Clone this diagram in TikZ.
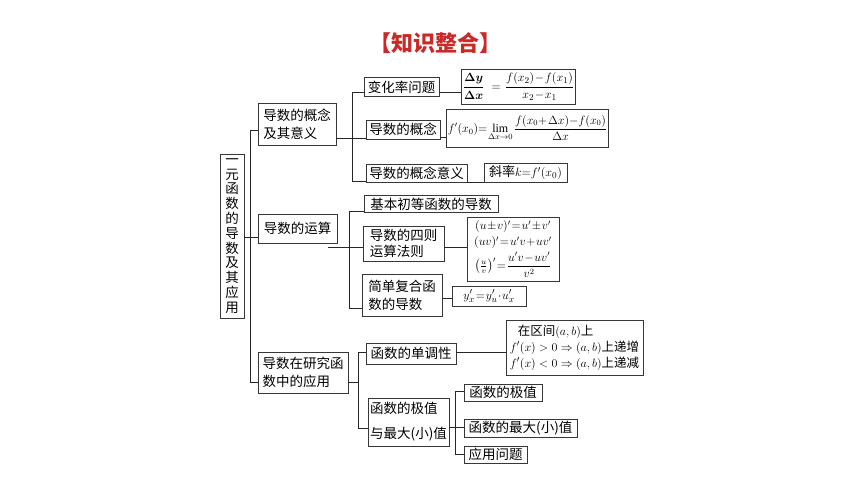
\documentclass[tikz,border=0pt]{standalone}
\usepackage{amsmath}
\usepackage{fontspec}
\setmainfont{Liberation Serif}
\newfontfamily\cjk{Noto Sans CJK SC}
\definecolor{titlered}{RGB}{200,42,40}
\definecolor{edge}{RGB}{55,55,55}
\newcommand{\tightmath}{\medmuskip=1mu\thickmuskip=1.5mu\thinmuskip=1mu}
\tikzset{
  bx/.style={draw=edge, line width=0.9pt, inner sep=1pt, align=left,
    font=\cjk\fontsize{13.5}{17}\selectfont},
  fx/.style={draw=edge, line width=0.9pt, inner sep=1pt, align=left,
    font=\fontsize{12.5}{14}\selectfont\tightmath},
  ln/.style={draw=black!85, line width=0.8pt}
}
\begin{document}
\begin{tikzpicture}[x=1pt,y=-1pt]
\useasboundingbox[fill=white] (0,0) rectangle (860,484);
% title
\node[font=\cjk\bfseries\fontsize{22}{22}\selectfont, text=titlered] (T) at (435,43) {【知识整合】};
% main vertical box
\node[bx, align=center, inner sep=0pt, minimum width=24pt, minimum height=164pt,
  font=\cjk\fontsize{13.5}{14.8}\selectfont] (M) at (232,236)
  {一\\元\\函\\数\\的\\导\\数\\及\\其\\应\\用};
% level A
\node[bx, minimum width=78pt, minimum height=42pt, font=\cjk\fontsize{13.5}{18}\selectfont] (A1) at (297,124) {导数的概念\\及其意义};
\node[bx, minimum width=79pt, minimum height=29pt] (A2) at (297.5,228.5) {导数的运算};
\node[bx, minimum width=90pt, minimum height=41pt, font=\cjk\fontsize{13.5}{18}\selectfont] (A3) at (303,372.5) {导数在研究函\\数中的应用};
% level B
\node[bx, minimum width=75pt, minimum height=19pt] (B1) at (401.5,87) {变化率问题};
\node[bx, minimum width=74pt, minimum height=19pt] (B2) at (403,129.5) {导数的概念};
\node[bx, minimum width=101pt, minimum height=18pt] (B3) at (416.5,173) {导数的概念意义};
\node[bx, minimum width=134pt, minimum height=17pt] (B4) at (431,204) {基本初等函数的导数};
\node[bx, minimum width=81pt, minimum height=35pt, font=\cjk\fontsize{13.5}{16.5}\selectfont] (B5) at (403.5,243.5) {导数的四则\\运算法则};
\node[bx, minimum width=80pt, minimum height=42pt, font=\cjk\fontsize{13.5}{18}\selectfont] (B6) at (402,295) {简单复合函\\数的导数};
\node[bx, minimum width=90pt, minimum height=21pt] (B7) at (411,353.5) {函数的单调性};
\node[bx, minimum width=81pt, minimum height=48pt, font=\cjk\fontsize{13.5}{25}\selectfont] (B8) at (408.5,422) {函数的极值\\与最大(小)值};
% formulas
\node[fx, minimum width=113pt, minimum height=35pt, align=center] (F1) at (518.5,86.5)
  {$\boldsymbol{\dfrac{\Delta y}{\Delta x}}\ \ =\ \dfrac{f(x_2)-f(x_1)}{x_2-x_1}$};
\node[fx, minimum width=151pt, minimum height=38pt, align=center, font=\fontsize{12}{14}\selectfont\tightmath] (F2) at (527.5,128)
  {$f'(x_0){=}\lim\limits_{\Delta x\to 0}\,\dfrac{f(x_0{+}\,\Delta x){-}f(x_0)}{\Delta x}$};
\node[fx, minimum width=83pt, minimum height=19pt, align=center] (F3) at (525.5,172.5)
  {{\cjk\fontsize{13}{14}\selectfont 斜率}$k{=}f'(x_0)$};
\node[fx, minimum width=92pt, minimum height=64pt, align=center, font=\fontsize{12}{16}\selectfont\tightmath] (F4) at (513,249)
  {$(u\pm v)'=u'\pm v'$\\$(uv)'=u'v+uv'$\\[3pt]$\bigl(\frac{u}{v}\bigr)'=\dfrac{u'v-uv'}{v^2}$};
\node[fx, minimum width=74pt, minimum height=20pt, align=center] (F5) at (489,296)
  {$y'_x=y'_u\cdot u'_x$};
\node[fx, minimum width=137pt, minimum height=55pt, font=\fontsize{12.5}{16}\selectfont] (F6) at (574.5,347.5)
  {\hspace*{8pt}{\cjk 在区间}$(a,b)${\cjk 上}\\$f'(x)>0\Rightarrow(a,b)${\cjk 上递增}\\$f'(x)<0\Rightarrow(a,b)${\cjk 上递减}};
% level C
\node[bx, minimum width=78pt, minimum height=17pt] (C1) at (503,392.5) {函数的极值};
\node[bx, minimum width=113pt, minimum height=18pt] (C2) at (520.5,428) {函数的最大(小)值};
\node[bx, minimum width=63pt, minimum height=17pt] (C3) at (495.5,454.5) {应用问题};
% junction coordinates
\coordinate (s1) at (250,130);
\coordinate (s2) at (250,237);
\coordinate (s3) at (250,382);
\coordinate (p1) at (352,92);
\coordinate (p2) at (352,138);
\coordinate (p3) at (352,181);
\coordinate (q0) at (328,247);
\coordinate (q1) at (349,211);
\coordinate (q3) at (349,308);
\coordinate (r0) at (358,382);
\coordinate (r1) at (358,352);
\coordinate (r3) at (358,428);
\coordinate (t0) at (455,427);
\coordinate (t1) at (455,391);
\coordinate (t3) at (455,454);
% spine
\draw[ln] (A1.west |- s1) -- (s1) -- (s3) -- (A3.west |- s3);
\draw[ln] (M.east |- s2) -- (A2.west |- s2);
% A1 branch
\draw[ln] (A1.east |- p2) -- (B2.west |- p2);
\draw[ln] (B1.west |- p1) -- (p1) -- (p3) -- (B3.west |- p3);
\draw[ln] (B1.east |- p1) -- (F1.west |- p1);
\draw[ln] (B2.east |- 0,137) -- (F2.west |- 0,137);
\draw[ln] (B3.south east) -- (F3.south west);
% A2 branch
\draw[ln] (q0) -- (B5.west |- q0);
\draw[ln] (B4.west |- q1) -- (q1) -- (q3) -- (B6.west |- q3);
\draw[ln] (B5.east |- q0) -- (F4.west |- q0);
\draw[ln] (B6.east |- 0,298) -- (F5.west |- 0,298);
% A3 branch
\draw[ln] (A3.east |- r0) -- (r0);
\draw[ln] (B7.west |- r1) -- (r1) -- (r3) -- (B8.west |- r3);
\draw[ln] (B7.east |- r1) -- (F6.west |- r1);
\draw[ln] (B8.east |- t0) -- (C2.west |- t0);
\draw[ln] (C1.west |- t1) -- (t1) -- (t3) -- (C3.west |- t3);
\end{tikzpicture}
\end{document}
